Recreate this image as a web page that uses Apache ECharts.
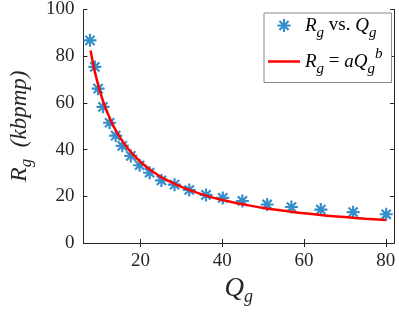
<!DOCTYPE html>
<html>
<head>
<meta charset="utf-8">
<script src="https://cdn.jsdelivr.net/npm/echarts@6/dist/echarts.min.js"></script>
<style>html,body{margin:0;padding:0;background:#fff}#c{width:399px;height:314px}</style>
</head>
<body>
<div id="c"></div>
<script>
// Measured points (Q_g, R_g)
const qValues = [7.6, 8.8, 9.6, 10.8, 12.4, 13.9, 15.5, 17.6, 19.75, 22.2, 25.1, 28.3, 31.9, 36.0, 40.1, 44.9, 50.95, 56.9, 64.1, 72.0, 80.1];
const rValues = [86.8, 75.4, 66.1, 58.3, 51.5, 46.0, 41.6, 37.3, 33.3, 30.1, 26.8, 25.0, 22.7, 20.6, 19.3, 18.0, 16.5, 15.4, 14.3, 13.2, 12.3];
// Fitted curve
const fitQ = [7.75, 8.5, 9, 10, 11, 12, 13, 14, 16, 18, 20, 23, 26, 30, 35, 40, 45, 50, 55, 60, 65, 70, 75, 80];
const fitR = [82.4, 75.7, 71.9, 65.3, 59.8, 55.3, 51.4, 48.0, 42.5, 38.2, 34.7, 30.5, 27.3, 24.0, 20.8, 18.4, 16.6, 15.0, 13.8, 12.7, 11.8, 11.1, 10.4, 9.8];
const xTicks = [20, 40, 60, 80];
const yTicks = [0, 20, 40, 60, 80, 100];
const seriesNames = ['pts', 'fit'];

const F = 'Liberation Serif';
const AX = '#262626';
const STAR = 'path://M-1,-6L1,-6L1,6L-1,6Z M-6,-1L6,-1L6,1L-6,1Z M-3.54,-4.95L4.95,3.54L3.54,4.95L-4.95,-3.54Z M-3.54,4.95L-4.95,3.54L3.54,-4.95L4.95,-3.54Z';
const LINE_ICON = 'path://M0,0L32,0L32,2.5L0,2.5Z';

const chart = echarts.init(document.getElementById('c'), null, {renderer: 'canvas'});

const legendRich = {
  i: {fontFamily: F, fontStyle: 'italic', fontSize: 19, lineHeight: 30, color: '#000'},
  r: {fontFamily: F, fontStyle: 'normal', fontSize: 19, lineHeight: 30, color: '#000'},
  s: {fontFamily: F, fontStyle: 'italic', fontSize: 15, lineHeight: 10, verticalAlign: 'bottom', color: '#000'},
  p: {fontFamily: F, fontStyle: 'italic', fontSize: 15, lineHeight: 16, verticalAlign: 'top', color: '#000'}
};

function xAxisBase(extra) {
  return Object.assign({
    type: 'value', min: 6, max: 82,
    axisLine: {show: true, lineStyle: {color: AX, width: 1}},
    axisTick: {show: true, inside: true, length: 4, customValues: xTicks, lineStyle: {color: AX}},
    axisLabel: {show: false},
    splitLine: {show: false}
  }, extra);
}
function yAxisBase(extra) {
  return Object.assign({
    type: 'value', min: 0, max: 100, interval: 20,
    axisLine: {show: true, lineStyle: {color: AX, width: 1}},
    axisTick: {show: true, inside: true, length: 4, lineStyle: {color: AX}},
    axisLabel: {show: false},
    splitLine: {show: false}
  }, extra);
}

chart.setOption({
  animation: false,
  backgroundColor: '#fff',
  textStyle: {fontFamily: F},
  grid: {left: 77, right: 5, top: 8, bottom: 71, containLabel: false},
  xAxis: [
    xAxisBase({
      position: 'bottom',
      axisLabel: {show: true, customValues: xTicks, fontFamily: F, fontSize: 19, color: AX, margin: 9},
      name: '{i|Q}{s|g}',
      nameLocation: 'middle',
      nameGap: 28,
      nameTextStyle: {
        fontFamily: F,
        rich: {
          i: {fontFamily: F, fontStyle: 'italic', fontSize: 27, lineHeight: 34, color: AX},
          s: {fontFamily: F, fontStyle: 'italic', fontSize: 18, lineHeight: 12, verticalAlign: 'bottom', color: AX}
        }
      }
    }),
    xAxisBase({position: 'top'})
  ],
  yAxis: [
    yAxisBase({
      position: 'left',
      axisLabel: {show: true, fontFamily: F, fontSize: 19, color: AX, margin: 9},
      name: '{i|R}{s|g}{r|  (kbpmp)}',
      nameLocation: 'middle',
      nameRotate: 90,
      nameGap: 48,
      nameTextStyle: {
        fontFamily: F,
        rich: {
          i: {fontFamily: F, fontStyle: 'italic', fontSize: 24, lineHeight: 30, color: AX},
          r: {fontFamily: F, fontStyle: 'italic', fontSize: 23, lineHeight: 30, color: AX},
          s: {fontFamily: F, fontStyle: 'italic', fontSize: 17, lineHeight: 10, verticalAlign: 'bottom', color: AX}
        }
      }
    }),
    yAxisBase({position: 'right'})
  ],
  legend: {
    show: true,
    orient: 'vertical',
    left: 264, top: 13,
    padding: [3, 9, 6, 4],
    itemGap: 6,
    itemWidth: 32,
    itemHeight: 13,
    borderColor: '#8c8c8c',
    borderWidth: 1,
    backgroundColor: '#fff',
    data: [
      {name: 'pts', icon: STAR},
      {name: 'fit', icon: LINE_ICON, itemStyle: {color: '#FF0000'}}
    ],
    formatter: function (n) {
      if (n === 'pts') return '{i|R}{s|g}{r| vs. }{i|Q}{s|g}';
      return '{i|R}{s|g}{r| = }{i|aQ}{s|g}{p|b}';
    },
    textStyle: {fontFamily: F, rich: legendRich}
  },
  series: [
    {
      name: seriesNames[0],
      type: 'scatter',
      data: qValues.map((q, k) => [q, rValues[k]]),
      symbol: STAR,
      symbolSize: 13,
      itemStyle: {color: '#0072BD'},
      z: 3
    },
    {
      name: seriesNames[1],
      type: 'line',
      data: fitQ.map((q, k) => [q, fitR[k]]),
      smooth: true,
      showSymbol: false,
      symbol: 'none',
      lineStyle: {color: '#FF0000', width: 2.5},
      itemStyle: {color: '#FF0000'},
      z: 4
    }
  ]
});
</script>
</body>
</html>
